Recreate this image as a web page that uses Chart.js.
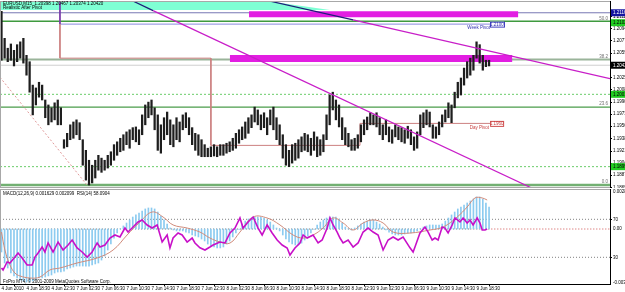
<!DOCTYPE html>
<html><head><meta charset="utf-8">
<script src="https://cdn.jsdelivr.net/npm/chart.js@4.4.0/dist/chart.umd.min.js"></script>
<style>
html,body{margin:0;padding:0;background:#fff;overflow:hidden}
#c1{position:absolute;left:0;top:0}
#c2{position:absolute;left:0;top:188px}
</style></head><body>
<canvas id="c1" width="625" height="188"></canvas>
<canvas id="c2" width="625" height="104"></canvas>
<script>
// ---------- DATA ----------
const barHigh = [1.2118,1.2080,1.2066,1.2072,1.2063,1.2071,1.2075,1.2080,1.2056,1.2047,
1.2014,1.2010,1.2018,1.2014,1.1993,1.1986,1.1982,1.1989,1.1993,1.1982,
1.1937,1.1946,1.1958,1.1962,1.1965,1.1961,1.1937,1.1922,1.1908,1.1901,
1.1908,1.1915,1.1911,1.1908,1.1915,1.1920,1.1930,1.1934,1.1939,1.1944,
1.1948,1.1951,1.1954,1.1955,1.1951,1.1972,1.1986,1.1990,1.1993,1.1982,
1.1972,1.1958,1.1968,1.1976,1.1965,1.1958,1.1968,1.1962,1.1972,1.1975,
1.1968,1.1954,1.1946,1.1944,1.1937,1.1930,1.1925,1.1927,1.1930,1.1927,
1.1930,1.1930,1.1932,1.1934,1.1939,1.1946,1.1951,1.1955,1.1962,1.1968,
1.1972,1.1983,1.1979,1.1972,1.1975,1.1968,1.1979,1.1983,1.1968,1.1958,
1.1944,1.1930,1.1922,1.1930,1.1932,1.1937,1.1941,1.1946,1.1944,1.1939,
1.1948,1.1941,1.1937,1.1944,1.1972,1.2000,1.2004,1.1993,1.1986,1.1968,
1.1954,1.1946,1.1937,1.1939,1.1944,1.1958,1.1965,1.1969,1.1975,1.1972,
1.1975,1.1968,1.1958,1.1965,1.1955,1.1951,1.1958,1.1955,1.1954,1.1951,
1.1956,1.1951,1.1941,1.1948,1.1972,1.1975,1.1979,1.1976,1.1958,1.1955,
1.1962,1.1972,1.1979,1.1989,1.1986,1.2004,1.2018,1.2024,1.2038,1.2047,
1.2052,1.2056,1.2075,1.2071,1.2056,1.2049,1.2049];
const barLow = [1.2049,1.2052,1.2047,1.2049,1.2041,1.2047,1.2052,1.2045,1.2028,1.2004,
1.1972,1.1986,1.1997,1.1993,1.1968,1.1958,1.1962,1.1965,1.1958,1.1958,
1.1925,1.1927,1.1937,1.1939,1.1944,1.1937,1.1901,1.1880,1.1873,1.1876,
1.1883,1.1894,1.1891,1.1894,1.1897,1.1901,1.1908,1.1915,1.1920,1.1922,
1.1930,1.1925,1.1937,1.1934,1.1930,1.1944,1.1958,1.1968,1.1972,1.1951,
1.1922,1.1918,1.1937,1.1944,1.1930,1.1927,1.1937,1.1934,1.1951,1.1954,
1.1944,1.1930,1.1922,1.1915,1.1913,1.1913,1.1913,1.1913,1.1914,1.1913,
1.1915,1.1915,1.1918,1.1920,1.1922,1.1925,1.1932,1.1937,1.1939,1.1946,
1.1954,1.1962,1.1958,1.1951,1.1954,1.1944,1.1958,1.1951,1.1937,1.1930,
1.1911,1.1901,1.1899,1.1904,1.1908,1.1911,1.1920,1.1922,1.1920,1.1915,
1.1922,1.1913,1.1915,1.1920,1.1937,1.1958,1.1979,1.1965,1.1955,1.1937,
1.1930,1.1927,1.1922,1.1922,1.1925,1.1934,1.1944,1.1951,1.1958,1.1958,
1.1955,1.1944,1.1937,1.1944,1.1934,1.1932,1.1941,1.1937,1.1934,1.1932,
1.1939,1.1930,1.1922,1.1925,1.1944,1.1954,1.1958,1.1955,1.1939,1.1939,
1.1944,1.1955,1.1962,1.1968,1.1961,1.1982,1.1996,1.2000,1.2014,1.2024,
1.2028,1.2035,1.2052,1.2045,1.2035,1.2040,1.2041];

const macdHist = [-0.00165,-0.00244,-0.00280,-0.00316,-0.00337,-0.00352,-0.00366,-0.00373,-0.00381,-0.00381,
-0.00373,-0.00366,-0.00352,-0.00352,-0.00345,-0.00337,-0.00330,-0.00316,-0.00309,-0.00309,
-0.00302,-0.00287,-0.00280,-0.00273,-0.00266,-0.00266,-0.00266,-0.00266,-0.00266,-0.00258,
-0.00251,-0.00244,-0.00223,-0.00194,-0.00151,-0.00108,-0.00065,-0.00029,0.00002,0.00022,
0.00043,0.00065,0.00086,0.00101,0.00115,0.00129,0.00144,0.00151,0.00151,0.00144,
0.00122,0.00093,0.00065,0.00036,0.00007,-0.00007,-0.00014,-0.00014,-0.00014,-0.00022,
-0.00029,-0.00043,-0.00050,-0.00057,-0.00072,-0.00086,-0.00108,-0.00122,-0.00129,-0.00136,
-0.00136,-0.00129,-0.00108,-0.00086,-0.00057,-0.00029,-0.00003,0.00036,0.00057,0.00072,
0.00079,0.00086,0.00086,0.00086,0.00079,0.00065,0.00050,0.00029,0.00007,-0.00014,
-0.00043,-0.00072,-0.00093,-0.00108,-0.00115,-0.00115,-0.00101,-0.00079,-0.00050,-0.00029,
-0.00003,0.00029,0.00050,0.00065,0.00079,0.00086,0.00086,0.00086,0.00072,0.00043,
0.00014,0.00002,-0.00007,0.00007,0.00022,0.00036,0.00050,0.00057,0.00065,0.00065,
0.00050,0.00036,0.00014,-0.00007,-0.00022,-0.00036,-0.00043,-0.00043,-0.00043,-0.00036,
-0.00029,-0.00029,-0.00022,-0.00014,0.00003,0.00014,0.00022,0.00029,0.00029,0.00029,
0.00029,0.00036,0.00057,0.00079,0.00101,0.00122,0.00144,0.00158,0.00172,0.00187,
0.00201,0.00215,0.00230,0.00230,0.00215,0.00187,0.00158];

const signalBar = [0,1.1,2.7,4.3,5.9,9.1,12.3,15.5,18.7,24.2,30.6,35.7,40.2,44.3,48.2,51.7,54.9,59.4,63.5,66.7,69.9,73.1,76.3,80.5,85,89.1,93.3,96.5,99.7,102.9,106.1,109.3,112.5,115.7,118.9,122.1,125.3,130.7,137.1,141.3,145.8,149,151.5,153.8,155.4];
const signalVal = [-0.00022,-0.00151,-0.00258,-0.00316,-0.00337,-0.00352,-0.00345,-0.00294,-0.00280,-0.00244,-0.00208,-0.00151,-0.00043,0.00050,0.00122,0.00086,0.00029,0.00007,-0.00022,-0.00065,-0.00093,-0.00101,-0.00022,0.00086,0.00079,0.00029,-0.00043,-0.00065,-0.00043,0.00007,0.00079,0.00043,-0.00007,0.00043,0.00065,0.00043,-0.00022,-0.00029,-0.00007,0.00014,0.00086,0.00158,0.00223,0.00223,0.00208];

const rsiBar = [0,0.5,1.8,2.7,4.3,5.3,6.6,8.2,9.8,10.7,11.7,13,13.9,14.9,16.5,18.1,19.7,21.3,22.6,24.2,25.8,27.4,29,30.6,31.5,33.1,34.7,36.3,37.9,39.5,40.5,42.1,43.7,45,46.6,48.2,49.8,51.4,53,53.9,54.9,56.5,57.8,59.4,61,61.9,63.5,65.1,66.7,67.7,69.9,71.5,73.1,74.7,76.3,77.3,78.9,80.5,82.1,83.4,85,86.6,88.2,89.8,91.4,92.3,93.9,95.5,96.5,97.8,99.7,101.3,102.6,104.2,105.1,106.1,107.4,108.3,109.3,110.9,112.5,114.1,115.7,117.3,118.9,120.5,122.1,123.7,125.3,126.9,128.5,130.7,131.7,132.3,133.9,135.5,136.5,137.8,138.7,139.7,141,141.9,142.9,144.2,145.1,146.7,147.7,149,149.9,150.9,152.2,153.1,153.8,154.7,155.4];
const rsiVal = [18.7,16.6,25.1,24.0,30.3,34.5,29.3,21.9,21.9,30.3,34.5,40.8,35.6,45.1,35.6,46.1,37.7,42.9,48.2,39.8,35.6,30.3,35.6,45.1,40.8,42.9,50.3,53.5,51.4,60.8,56.6,61.9,67.2,69.3,64.0,60.8,64.0,46.1,53.5,39.8,50.3,55.6,53.5,46.1,50.3,45.1,40,37.7,40.8,42.9,46.1,45.1,55.6,60.8,71.4,60.8,67.2,72.4,60.8,53.5,64.0,55.6,48.2,42.9,39.8,32.4,39.8,45.1,53.5,50.3,53.5,45.1,48.2,60.8,71.4,64.0,56.6,50.3,45.1,48.2,40.8,45.1,56.6,60.8,56.6,53.5,37.7,48.2,51.4,48.2,51.4,40,35.6,40.8,55.6,61.9,56.6,48.2,50.3,48.2,61.9,60.8,55.6,64.0,71.4,67.2,71.4,66.1,69.3,64.0,71.4,66.1,58.7,58.7,59.8];
const rsiLevels = [30, 70];

const priceTicks = [1.18690,1.18870,1.19040,1.19210,1.19380,1.19560,1.19730,1.19900,1.20080,1.20250,1.20420,1.20590,1.20770,1.20940,1.21110];
const timeBars = [0,8,16,24,32,40,48,56,64,72,80,88,96,104,112,120,128,136,144,152];
const timeLabels = ["4 Jun 2010","4 Jun 18:30","4 Jun 22:30","7 Jun 02:30","7 Jun 06:30","7 Jun 10:30","7 Jun 14:30","7 Jun 18:30","7 Jun 22:30","8 Jun 02:30","8 Jun 06:30","8 Jun 10:30","8 Jun 14:30","8 Jun 18:30","8 Jun 22:30","9 Jun 02:30","9 Jun 06:30","9 Jun 10:30","9 Jun 14:30","9 Jun 18:30"];

const fibLevels = [1.2104, 1.2050, 1.1983, 1.1873];
const fibLabels = ["50.0", "38.2", "23.6", "0.0"];
const dottedLevels = [1.2001, 1.1899];
const resistLevel = 1.2116;
const bidLevel = 1.2042;
const weekPivotBars = [18.7, 18.7, 161.1];
const weekPivotVals = [1.2140, 1.2100, 1.2100];
const dayPivotBars = [18.7, 18.7, 67, 67, 114.7, 114.7, 160.5];
const dayPivotVals = [1.2100, 1.2052, 1.2052, 1.1929, 1.1929, 1.1960, 1.1960];
const zoneBars1 = [79.2, 165.3], zoneVal1 = 1.2114;
const zoneBars2 = [73.1, 163.4], zoneVal2 = 1.20515;
const trendABars = [84.3, 112.5, 194.7], trendAVals = [1.2134, 1.2106, 1.2023];
const trendBBars = [41.4, 48.5, 175], trendBVals = [1.2134, 1.2119, 1.18578];
const supportBars = [-0.48, 27.36], supportVals = [1.2025, 1.1873];
const bandLowBars = [-0.48, 105.1], bandLowVals = [1.2120, 1.2120];
const bandTopBars = [-0.48, 84.3, 105.1], bandTopVals = [1.2133, 1.2133, 1.2120];
const axisBoxPrices = [1.2116, 1.2102, 1.2042, 1.2001, 1.1899];

// ---------- CHARTS ----------
Chart.defaults.font.family = "'Liberation Sans', Arial, sans-serif";
const X_MIN = -0.48, X_MAX = 194.7;
const FONT = "4.5px 'Liberation Sans', Arial, sans-serif";

function seg(xs, ys, style) {
  return Object.assign({type:'line', data: xs.map((x,i)=>({x:x, y:ys[i]})), pointRadius:0, borderWidth:1,
    tension:0, fill:false, clip:0, xAxisID:'x'}, style);
}
function hl(v, style, x0, x1) { return seg([x0===undefined?X_MIN:x0, x1===undefined?X_MAX:x1], [v, v], style); }

const magenta = '#c81ec8', navy = '#1c1c78';
const ds1 = [
  seg(bandLowBars, bandLowVals, {yAxisID:'y', borderWidth:0, backgroundColor:'#7fffd4', fill:'+1', order:100}),
  seg(bandTopBars, bandTopVals, {yAxisID:'y', borderWidth:0, order:101}),
  hl(resistLevel, {yAxisID:'y', borderColor:'#7878b4', order:50}),
  hl(fibLevels[0], {yAxisID:'y', borderColor:'#3f9a3f', borderWidth:1.5, order:50}),
  hl(fibLevels[1], {yAxisID:'y', borderColor:'#9ab49a', borderWidth:2, order:50}),
  hl(fibLevels[2], {yAxisID:'y', borderColor:'#4a9c4a', borderWidth:1.3, order:50}),
  hl(fibLevels[3], {yAxisID:'y', borderColor:'#72b072', borderWidth:2.5, order:50}),
  hl(dottedLevels[0], {yAxisID:'y', borderColor:'#6acc6a', borderDash:[2,2], order:50}),
  hl(dottedLevels[1], {yAxisID:'y', borderColor:'#6acc6a', borderDash:[2,2], order:50}),
  hl(bidLevel, {yAxisID:'y', borderColor:'#cfcfcf', order:50}),
  seg(weekPivotBars.slice(0,2), weekPivotVals.slice(0,2), {yAxisID:'y', borderColor:'#7a3aa8', order:45}),
  seg(weekPivotBars.slice(1), weekPivotVals.slice(1), {yAxisID:'y', borderColor:'#8a8ae0', order:45}),
  seg(dayPivotBars, dayPivotVals, {yAxisID:'y', borderColor:'#cc8080', order:40}),
  hl(zoneVal1, {yAxisID:'y', borderColor:'#e21ee2', borderWidth:6, borderCapStyle:'butt', order:30}, zoneBars1[0], zoneBars1[1]),
  hl(zoneVal2, {yAxisID:'y', borderColor:'#e21ee2', borderWidth:7, borderCapStyle:'butt', order:30}, zoneBars2[0], zoneBars2[1]),
  {type:'bar', xAxisID:'x', yAxisID:'y', data: barHigh.map((h,i)=>({x:i, y:[barLow[i], h]})),
    backgroundColor:'#1e1e1e', borderWidth:0, barThickness:1.6, order:20},
  seg(supportBars, supportVals, {yAxisID:'y', borderColor:'#e09a9a', borderDash:[2,2], order:10}),
  seg(trendABars.slice(0,2), trendAVals.slice(0,2), {yAxisID:'y', borderColor:navy, borderWidth:1.2, order:10}),
  seg(trendABars.slice(1), trendAVals.slice(1), {yAxisID:'y', borderColor:magenta, borderWidth:1.2, order:10}),
  seg(trendBBars.slice(0,2), trendBVals.slice(0,2), {yAxisID:'y', borderColor:navy, borderWidth:1.2, order:10}),
  seg(trendBBars.slice(1), trendBVals.slice(1), {yAxisID:'y', borderColor:magenta, borderWidth:1.2, order:10})
];

const overlay1 = {
  id:'overlay1',
  afterDraw(chart) {
    const ctx = chart.ctx, a = chart.chartArea, x = chart.scales.x, y = chart.scales.y;
    ctx.save();
    ctx.strokeStyle = '#a8a8a8'; ctx.lineWidth = 1;
    ctx.beginPath();
    ctx.moveTo(a.left+0.5, a.top); ctx.lineTo(a.left+0.5, a.bottom);
    ctx.moveTo(a.left, a.top+0.5); ctx.lineTo(a.right, a.top+0.5);
    ctx.moveTo(a.left, a.bottom+0.5); ctx.lineTo(a.right, a.bottom+0.5);
    ctx.stroke();
    ctx.font = FONT; ctx.textBaseline = 'middle'; ctx.textAlign = 'left'; ctx.fillStyle = '#000';
    ctx.fillText('EURUSD,M15  1.20398 1.20467 1.20374 1.20420', 3, 3.5);
    ctx.fillText('Realistic After Pivot', 3, 7.5);
    ctx.textAlign = 'right'; ctx.fillStyle = '#707070';
    fibLevels.forEach((v,i) => ctx.fillText(fibLabels[i], a.right-2, y.getPixelForValue(v)-3));
    const wpX = x.getPixelForValue(weekPivotBars[2]), wpY = y.getPixelForValue(weekPivotVals[2]);
    ctx.strokeStyle = '#4040c0'; ctx.fillStyle = '#fff';
    ctx.fillRect(wpX-15, wpY-2.5, 14, 5); ctx.strokeRect(wpX-15+0.5, wpY-2.5+0.5, 14, 5);
    ctx.fillStyle = '#3030b0'; ctx.textAlign='center'; ctx.fillText(weekPivotVals[2].toFixed(4), wpX-8, wpY+0.5);
    ctx.textAlign='right'; ctx.fillText('Week Pivot', wpX-15, wpY+4);
    const dpX = x.getPixelForValue(dayPivotBars[6]), dpY = y.getPixelForValue(dayPivotVals[6]);
    ctx.strokeStyle = '#d05050'; ctx.fillStyle = '#fff';
    ctx.fillRect(dpX-13, dpY-2.5, 13, 5); ctx.strokeRect(dpX-13+0.5, dpY-2.5+0.5, 13, 5);
    ctx.fillStyle = '#c83c3c'; ctx.textAlign='center'; ctx.fillText(dayPivotVals[6].toFixed(4), dpX-6.5, dpY+0.5);
    ctx.textAlign='right'; ctx.fillText('Day Pivot', dpX-14, dpY+4);
    const boxStyles = [['#1414a0','#fff'],['#22cc22','#000'],['#000','#fff'],['#22cc22','#000'],['#22cc22','#000']];
    ctx.textAlign = 'left';
    axisBoxPrices.forEach((v,i) => {
      const py = y.getPixelForValue(v);
      ctx.fillStyle = boxStyles[i][0]; ctx.fillRect(a.right+1, py-3.5, 625-a.right-1, 7);
      ctx.fillStyle = boxStyles[i][1]; ctx.fillText(v.toFixed(5), a.right+3, py+0.3);
    });
    ctx.restore();
  }
};

new Chart(document.getElementById('c1'), {
  type:'bar',
  data:{datasets: ds1},
  options:{
    responsive:false, animation:false, devicePixelRatio:1,
    layout:{padding:{top:1, bottom:1, left:0, right:0}},
    plugins:{legend:{display:false}, tooltip:{enabled:false}},
    scales:{
      x:{type:'linear', min:X_MIN, max:X_MAX, offset:false, display:false, bounds:'data'},
      y:{type:'linear', position:'right', min:1.18703, max:1.21326, bounds:'data',
        afterBuildTicks(s){ s.ticks = priceTicks.map(v=>({value:v})); },
        afterFit(s){ s.width = 15; s.paddingTop = 0; s.paddingBottom = 0; },
        ticks:{autoSkip:false, font:{size:4.5}, color:'#000', padding:1, callback:(v)=>Number(v).toFixed(5)},
        grid:{drawOnChartArea:false, tickLength:2, color:'#000'},
        border:{color:'#000'}}
    }
  },
  plugins:[overlay1]
});

// ---------- INDICATOR PANE ----------
const ds2 = [
  hl(70, {yAxisID:'rsi', borderColor:'#808080', borderDash:[1,2], order:60}),
  hl(30, {yAxisID:'rsi', borderColor:'#808080', borderDash:[1,2], order:60}),
  hl(0, {yAxisID:'macd', borderColor:'#808080', borderDash:[1,2], order:60}, X_MIN, 150),
  hl(0, {yAxisID:'macd', borderColor:'#d05050', borderDash:[1,2], order:60}, 150, X_MAX),
  {type:'bar', xAxisID:'x', yAxisID:'macd', data: macdHist.map((v,i)=>({x:i, y:v})),
    backgroundColor:'#8ccbf0', borderWidth:0, barThickness:1, order:40},
  seg(signalBar, signalVal, {yAxisID:'macd', borderColor:'#d08a7a', borderWidth:1, tension:0.4, order:20}),
  seg(rsiBar, rsiVal, {yAxisID:'rsi', borderColor:'#c810c8', borderWidth:1.6, order:10})
];

const overlay2 = {
  id:'overlay2',
  afterDraw(chart) {
    const ctx = chart.ctx, a = chart.chartArea, m = chart.scales.macd;
    ctx.save();
    ctx.strokeStyle = '#a8a8a8'; ctx.lineWidth = 1;
    ctx.beginPath();
    ctx.moveTo(a.left+0.5, a.top); ctx.lineTo(a.left+0.5, a.bottom);
    ctx.moveTo(a.left, a.top+0.5); ctx.lineTo(a.right, a.top+0.5);
    ctx.stroke();
    ctx.font = FONT; ctx.textBaseline = 'middle'; ctx.textAlign = 'left'; ctx.fillStyle = '#000';
    ctx.fillText('MACD(12,26,9) 0.001629 0.002099  RSI(14) 58.0904', 3, 6);
    ctx.fillText('FxPro MT4, \u00a9 2001-2009 MetaQuotes Software Corp.', 3, a.bottom-2.5);
    ctx.fillText(m.max.toFixed(6), a.right+3, a.top+2.5);
    ctx.fillText((0).toFixed(2), a.right+3, m.getPixelForValue(0));
    ctx.fillText(m.min.toFixed(6), a.right+3, a.bottom-1.5);
    ctx.restore();
  }
};

new Chart(document.getElementById('c2'), {
  type:'bar',
  data:{datasets: ds2},
  options:{
    responsive:false, animation:false, devicePixelRatio:1,
    layout:{padding:{top:1, bottom:0, left:0, right:0}},
    plugins:{legend:{display:false}, tooltip:{enabled:false}},
    scales:{
      x:{type:'linear', min:X_MIN, max:X_MAX, offset:false, position:'bottom', bounds:'data',
        afterBuildTicks(s){ s.ticks = timeBars.map(v=>({value:v})); },
        afterFit(s){ s.height = 8; s.paddingLeft = 0; s.paddingRight = 0; },
        ticks:{autoSkip:false, maxRotation:0, minRotation:0, align:'start', padding:0, font:{size:4.5}, color:'#000',
          callback:(v, i)=>timeLabels[i]},
        grid:{drawOnChartArea:false, tickLength:2, color:'#000'},
        border:{color:'#000'}},
      rsi:{type:'linear', position:'right', min:1.9, max:101.9, bounds:'data',
        afterBuildTicks(s){ s.ticks = rsiLevels.map(v=>({value:v})); },
        afterFit(s){ s.width = 15; s.paddingTop = 0; s.paddingBottom = 0; },
        ticks:{autoSkip:false, font:{size:4.5}, color:'#000', padding:1, callback:(v)=>String(v)},
        grid:{drawOnChartArea:false, tickLength:2, color:'#000'},
        border:{color:'#000'}},
      macd:{type:'linear', display:false, min:-0.003949, max:0.002872, bounds:'data'}
    }
  },
  plugins:[overlay2]
});
</script>
</body></html>
